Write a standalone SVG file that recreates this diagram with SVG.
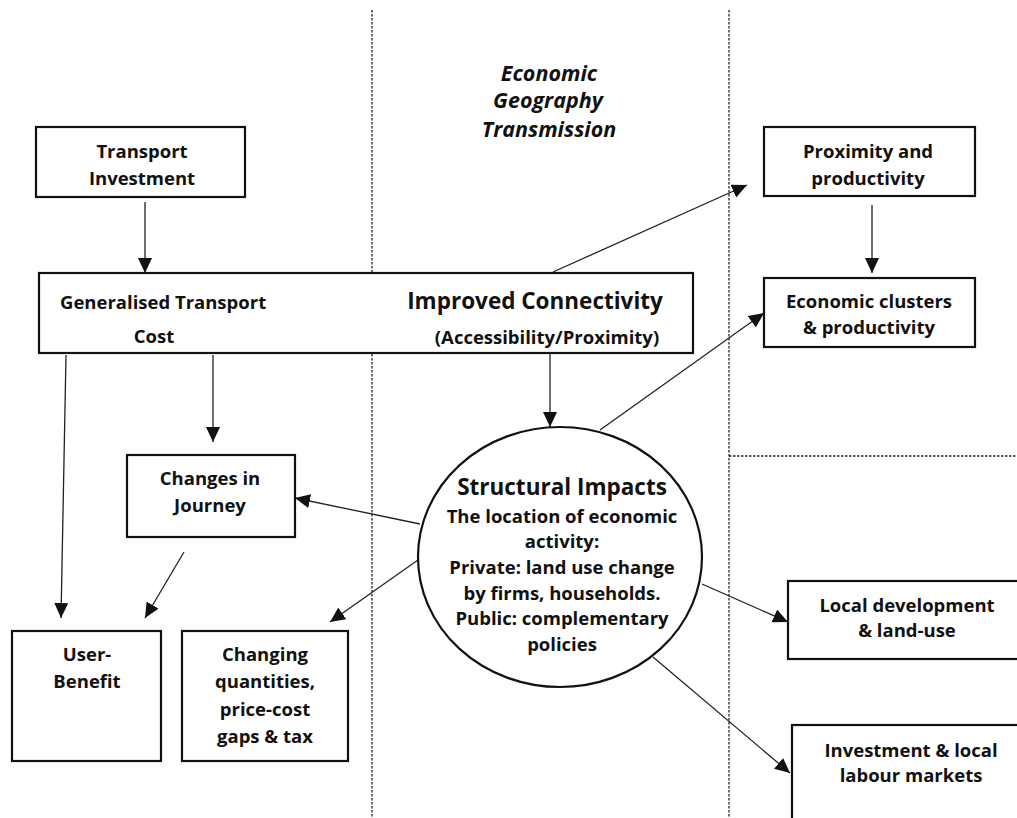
<svg xmlns="http://www.w3.org/2000/svg" width="1017" height="818" viewBox="0 0 1017 818">
  <style>
    .bg { fill: #ffffff; }
    .zone { fill: none; stroke: #222; stroke-width: 1.3; stroke-dasharray: 2.5 1.5; }
    .box { fill: #ffffff; stroke: #111; stroke-width: 2.2; }
    .link { fill: none; stroke: #222; stroke-width: 1.3; marker-end: url(#tip); }
    .t { font-family: "Open Sans", "Liberation Sans", sans-serif; font-weight: 700; font-size: 18.5px; fill: #111; text-anchor: middle; }
    .l { text-anchor: start; }
    .big { font-size: 22.5px; }
    .hdr { font-style: italic; font-size: 21.5px; }
  </style>
  <defs>
    <marker id="tip" markerUnits="userSpaceOnUse" viewBox="0 0 15 14" markerWidth="15" markerHeight="14" refX="15" refY="7" orient="auto">
      <path d="M0,0 L15,7 L0,14 z" fill="#111"/>
    </marker>
  </defs>

  <rect class="bg" x="0" y="0" width="1017" height="818"/>

  <!-- zone separators -->
  <g id="zones">
    <line class="zone" x1="372" y1="10" x2="372" y2="818"/>
    <line class="zone" x1="729" y1="10" x2="729" y2="818"/>
    <line class="zone" x1="729" y1="456" x2="1017" y2="456"/>
  </g>

  <!-- zone heading -->
  <g id="heading">
    <text class="t hdr" x="549" y="81">Economic</text>
    <text class="t hdr" x="548" y="108">Geography</text>
    <text class="t hdr" x="549" y="137">Transmission</text>
  </g>

  <!-- connectors -->
  <g id="connectors">
    <line class="link" x1="145" y1="202" x2="145" y2="273"/>
    <line class="link" x1="213" y1="355" x2="213" y2="442"/>
    <line class="link" x1="66" y1="355" x2="61" y2="618"/>
    <line class="link" x1="184" y1="552" x2="145" y2="618"/>
    <line class="link" x1="550" y1="354" x2="550" y2="427"/>
    <line class="link" x1="553" y1="272" x2="747" y2="185"/>
    <line class="link" x1="600" y1="430" x2="764" y2="313"/>
    <line class="link" x1="872" y1="205" x2="872" y2="273"/>
    <line class="link" x1="420" y1="524" x2="295" y2="498"/>
    <line class="link" x1="418" y1="560" x2="330" y2="622"/>
    <line class="link" x1="702" y1="584" x2="788" y2="622"/>
    <line class="link" x1="653" y1="657" x2="790" y2="773"/>
  </g>

  <g id="transport-investment">
    <rect class="box" x="36" y="127" width="209" height="70"/>
    <text class="t" x="142" y="158">Transport</text>
    <text class="t" x="142" y="185">Investment</text>
  </g>

  <g id="connectivity">
    <rect class="box" x="39" y="273" width="654" height="80"/>
    <text class="t l" x="60" y="309">Generalised Transport</text>
    <text class="t" x="154" y="343">Cost</text>
    <text class="t big" x="535" y="309">Improved Connectivity</text>
    <text class="t" x="547" y="344">(Accessibility/Proximity)</text>
  </g>

  <g id="proximity">
    <rect class="box" x="764" y="127" width="211" height="69"/>
    <text class="t" x="868" y="158">Proximity and</text>
    <text class="t" x="868" y="185">productivity</text>
  </g>

  <g id="clusters">
    <rect class="box" x="764" y="278" width="211" height="69"/>
    <text class="t" x="869" y="308">Economic clusters</text>
    <text class="t" x="869" y="334">&amp; productivity</text>
  </g>

  <g id="journey">
    <rect class="box" x="127" y="455" width="168" height="82"/>
    <text class="t" x="210" y="485">Changes in</text>
    <text class="t" x="210" y="512">Journey</text>
  </g>

  <g id="user-benefit">
    <rect class="box" x="12" y="631" width="149" height="130"/>
    <text class="t" x="87" y="661">User-</text>
    <text class="t" x="87" y="688">Benefit</text>
  </g>

  <g id="quantities">
    <rect class="box" x="182" y="631" width="166" height="130"/>
    <text class="t" x="265" y="661">Changing</text>
    <text class="t" x="265" y="688">quantities,</text>
    <text class="t" x="265" y="716">price-cost</text>
    <text class="t" x="265" y="743">gaps &amp; tax</text>
  </g>

  <g id="structural-impacts">
    <ellipse class="box" cx="560" cy="557" rx="142" ry="130"/>
    <text class="t big" x="562" y="495">Structural Impacts</text>
    <text class="t" x="562" y="523">The location of economic</text>
    <text class="t" x="562" y="548">activity:</text>
    <text class="t" x="562" y="574">Private: land use change</text>
    <text class="t" x="562" y="600">by firms, households.</text>
    <text class="t" x="562" y="625">Public: complementary</text>
    <text class="t" x="562" y="651">policies</text>
  </g>

  <g id="local-development">
    <rect class="box" x="788" y="581" width="245" height="78"/>
    <text class="t" x="907" y="612">Local development</text>
    <text class="t" x="907" y="637">&amp; land-use</text>
  </g>

  <g id="labour-markets">
    <rect class="box" x="792" y="725" width="245" height="110"/>
    <text class="t" x="911" y="757">Investment &amp; local</text>
    <text class="t" x="911" y="782">labour markets</text>
  </g>
</svg>
